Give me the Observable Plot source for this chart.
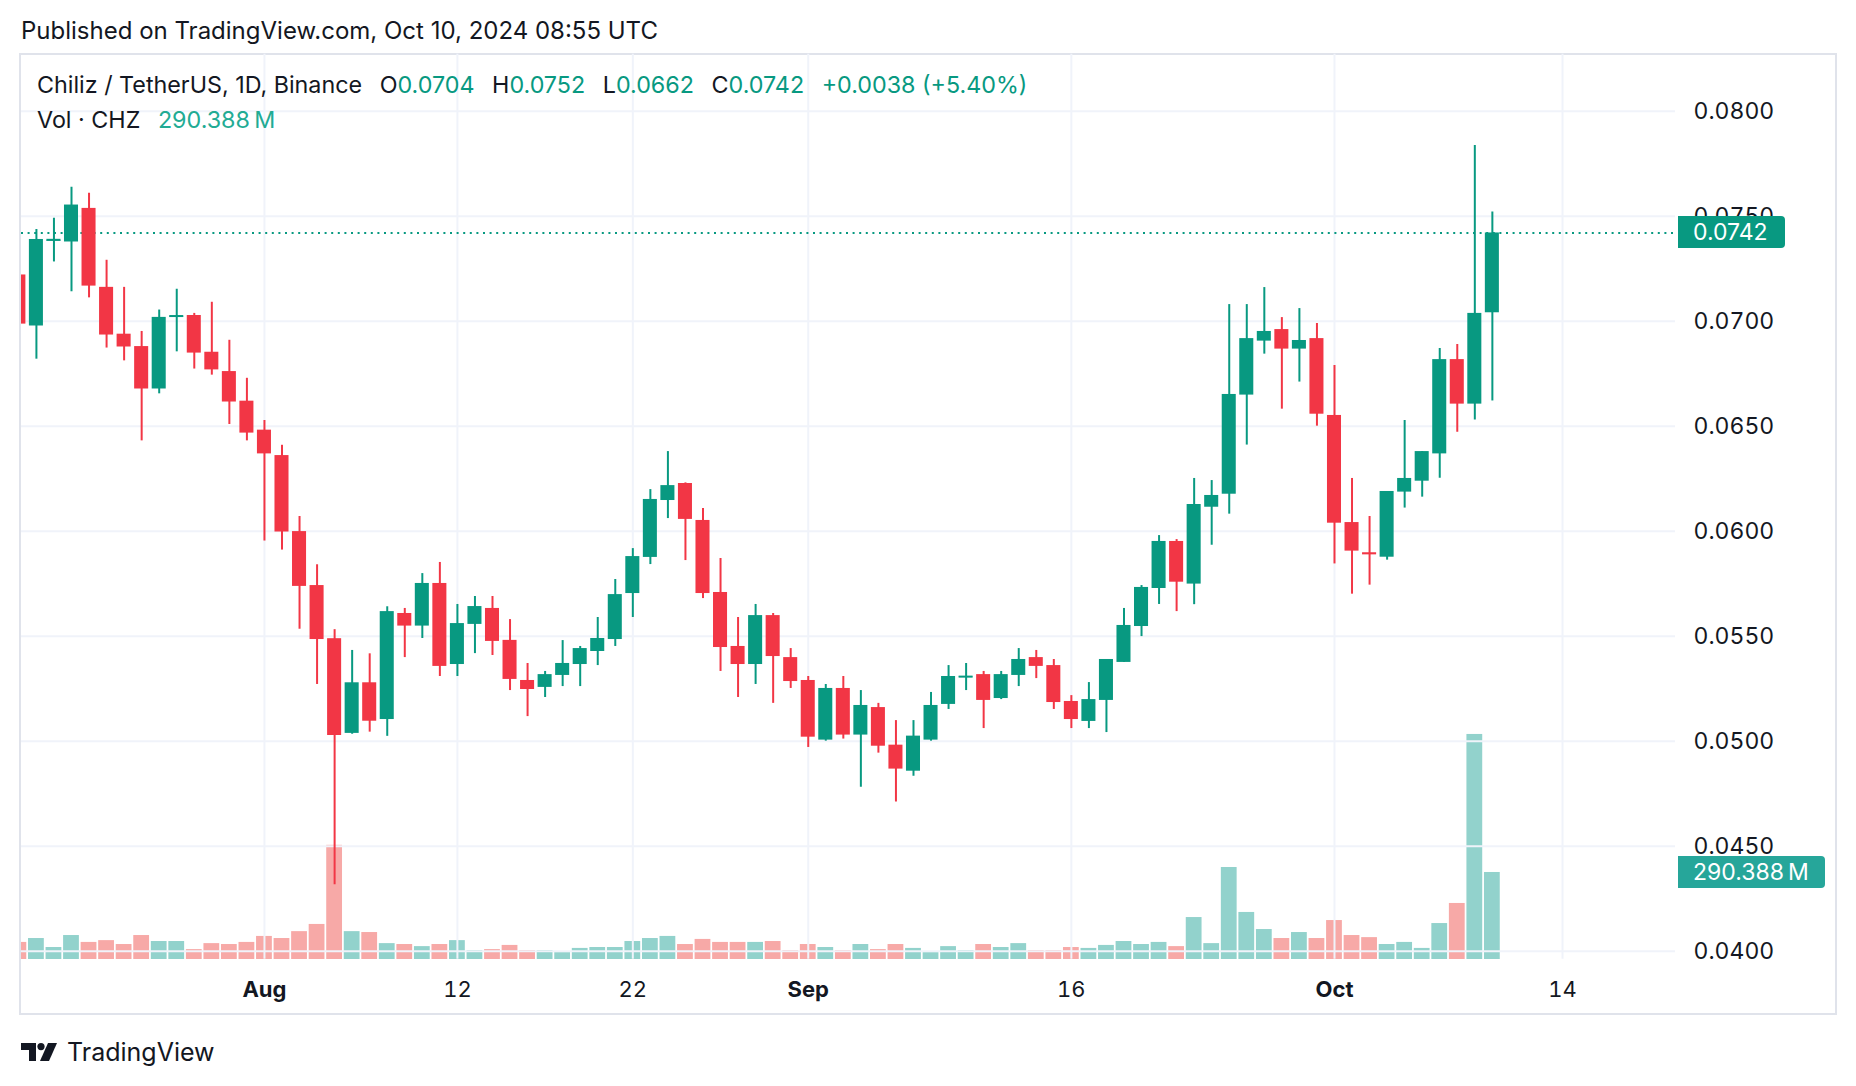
<!DOCTYPE html>
<html><head><meta charset="utf-8">
<script src="https://cdn.jsdelivr.net/npm/d3@7"></script>
<script src="https://cdn.jsdelivr.net/npm/@observablehq/plot@0.6"></script>
<style>
html,body{margin:0;padding:0;background:#fff;}
body{width:1856px;height:1086px;position:relative;overflow:hidden;font-family:Inter,"Noto Sans",sans-serif;color:#131722;}
#title{position:absolute;left:21px;top:18px;font-size:24px;line-height:26px;white-space:nowrap;}
#frame{position:absolute;left:19px;top:53px;width:1818px;height:962px;border:2px solid #e0e3eb;box-sizing:border-box;background:#fff;}
.layer{position:absolute;left:0;top:0;}
#legend1{position:absolute;left:37px;top:72px;font-size:23.3px;line-height:26px;white-space:nowrap;}
#legend2{position:absolute;left:37px;top:107px;font-size:23.3px;line-height:26px;white-space:nowrap;}
.g{color:#089981;} .v{color:#22ab94;}
.sp{display:inline-block;width:11px;}
.tag{position:absolute;left:1678px;height:32px;line-height:32px;color:#fff;font-size:23px;padding-left:15px;box-sizing:border-box;border-radius:0 4px 4px 0;white-space:nowrap;}
#brand{position:absolute;left:21px;top:1038px;height:28px;display:flex;align-items:center;gap:10px;font-size:25px;color:#131722;}
</style></head>
<body>
<div id="title">Published on TradingView.com, Oct 10, 2024 08:55 UTC</div>
<div id="frame"></div>
<div id="chart"></div>
<div id="legend1">Chiliz / TetherUS, 1D, Binance<span class="sp"></span> O<span class="g">0.0704</span><span class="sp"></span> H<span class="g">0.0752</span><span class="sp"></span> L<span class="g">0.0662</span><span class="sp"></span> C<span class="g">0.0742</span><span class="sp"></span> <span class="g">+0.0038 (+5.40%)</span></div>
<div id="legend2">Vol · CHZ<span class="sp"></span> <span class="v">290.388&#8201;M</span></div>
<div id="brand"><svg width="36" height="18" viewBox="0 0 36 18"><path d="M0 0h15v18h-7v-11h-8z" fill="#131722"/><circle cx="20" cy="3.6" r="3.6" fill="#131722"/><path d="M27 0h9l-8 18h-9z" fill="#131722"/></svg><span>TradingView</span></div>
<script>
// ---- data (CHZ/USDT daily, Jul 18 – Oct 10, 2024) ----
const startDate = "2024-07-18";
const open = [
0.0722,0.06977,0.07381,0.07377,0.07537,0.07161,0.06938,0.06879,0.06677,0.07020,
0.07027,0.06852,0.06760,0.06619,0.06481,0.06360,0.05998,0.05741,0.05488,0.05037,
0.05278,0.05103,0.05608,0.05548,0.05751,0.05365,0.05556,0.05632,0.05480,0.05289,
0.05256,0.05313,0.05365,0.05427,0.05484,0.05703,0.05875,0.06146,0.06227,0.06051,
0.05708,0.05451,0.05365,0.05598,0.05398,0.05289,0.05005,0.05251,0.05029,0.05160,
0.04981,0.04857,0.05005,0.05175,0.05303,0.05317,0.05203,0.05313,0.05398,0.05360,
0.05189,0.05094,0.05194,0.05375,0.05546,0.05727,0.05951,0.05748,0.06114,0.06176,
0.06648,0.06905,0.06960,0.06867,0.06917,0.06551,0.06041,0.05895,0.05876,0.06186,
0.06238,0.06368,0.06817,0.06605,0.0704];
const high = [
0.0726,0.07436,0.07490,0.07638,0.07609,0.07290,0.07161,0.06951,0.07053,0.07152,
0.07037,0.07090,0.06909,0.06728,0.06527,0.06409,0.06070,0.05840,0.05531,0.05432,
0.05416,0.05640,0.05632,0.05798,0.05851,0.05651,0.05689,0.05689,0.05579,0.05370,
0.05332,0.05479,0.05451,0.05589,0.05770,0.05917,0.06198,0.06379,0.06230,0.06108,
0.05870,0.05589,0.05651,0.05608,0.05441,0.05308,0.05270,0.05308,0.05241,0.05180,
0.05098,0.05098,0.05232,0.05360,0.05370,0.05332,0.05332,0.05441,0.05432,0.05389,
0.05217,0.05279,0.05389,0.05632,0.05741,0.05979,0.05960,0.06251,0.06241,0.07079,
0.07079,0.07160,0.07017,0.07060,0.06989,0.06789,0.06251,0.06070,0.06189,0.06527,
0.06379,0.06870,0.06889,0.07837,0.0752];
const low = [
0.0690,0.06819,0.07282,0.07140,0.07111,0.06872,0.06811,0.06430,0.06654,0.06854,
0.06772,0.06743,0.06508,0.06430,0.05953,0.05910,0.05533,0.05270,0.04316,0.05033,
0.05043,0.05023,0.05398,0.05489,0.05308,0.05308,0.05417,0.05408,0.05241,0.05117,
0.05208,0.05260,0.05260,0.05360,0.05451,0.05589,0.05841,0.06060,0.05860,0.05679,
0.05332,0.05208,0.05270,0.05180,0.05251,0.04970,0.05000,0.05010,0.04781,0.04943,
0.04710,0.04833,0.05000,0.05151,0.05241,0.05060,0.05198,0.05260,0.05298,0.05151,
0.05060,0.05060,0.05041,0.05375,0.05498,0.05651,0.05617,0.05650,0.05933,0.06081,
0.06410,0.06843,0.06581,0.06710,0.06500,0.05844,0.05700,0.05743,0.05862,0.06110,
0.06162,0.06252,0.06471,0.06529,0.0662];
const close = [
0.06986,0.07389,0.07385,0.07553,0.07167,0.06934,0.06877,0.06677,0.07018,0.07022,
0.06848,0.06768,0.06615,0.06467,0.06368,0.05996,0.05737,0.05484,0.05027,0.05278,
0.05095,0.05617,0.05548,0.05751,0.05356,0.05560,0.05641,0.05475,0.05294,0.05246,
0.05317,0.05370,0.05441,0.05489,0.05698,0.05879,0.06151,0.06217,0.06056,0.05703,
0.05446,0.05365,0.05598,0.05403,0.05284,0.05019,0.05251,0.05029,0.05170,0.04976,
0.04867,0.05024,0.05170,0.05308,0.05305,0.05194,0.05317,0.05389,0.05356,0.05184,
0.05103,0.05198,0.05389,0.05551,0.05732,0.05951,0.05757,0.06127,0.06170,0.06651,
0.06917,0.06951,0.06867,0.06908,0.06557,0.06038,0.05905,0.05892,0.06189,0.06251,
0.06379,0.06817,0.06605,0.07037,0.0742];
const volumeM = [
57,70,40,80,57,63,50,80,60,60,
33,53,50,57,77,70,93,117,381,93,
90,53,50,43,50,63,30,33,47,30,
30,23,37,40,40,60,70,77,50,67,
57,57,57,60,30,50,40,30,50,33,
50,37,23,43,30,50,40,53,30,30,
40,37,47,60,50,57,43,140,53,307,
157,100,70,90,70,130,80,73,50,57,
37,120,187,751,290.388];
const xTickDates = ["2024-08-01","2024-08-12","2024-08-22","2024-09-01","2024-09-16","2024-10-01","2024-10-14"];
const xTickLabels = ["Aug","12","22","Sep","16","Oct","14"];
const monthLabels = ["Aug","Sep","Oct"];
const yTicks = [0.040,0.045,0.050,0.055,0.060,0.065,0.070,0.075,0.080];
const lastPrice = 0.0742;
const lastVolumeLabel = "290.388\u2009M";

// ---- build table ----
const DAY = 864e5;
const t0 = new Date(startDate + "T00:00:00Z");
const UP = "#089981", DOWN = "#f23645", UPV = "#92d2cc", DOWNV = "#f7a9a7";
const data = open.map((o, i) => ({
  date: new Date(+t0 + i * DAY), open: o, high: high[i], low: low[i], close: close[i], volume: volumeM[i],
  up: close[i] >= o
}));
const ticks = xTickDates.map((d, i) => ({date: new Date(d + "T00:00:00Z"), label: xTickLabels[i]}));
const monthTicks = ticks.filter(t => monthLabels.includes(t.label));
const dayTicks = ticks.filter(t => !monthLabels.includes(t.label));
const labelOf = new Map(ticks.map(t => [+t.date, t.label]));

const xDomain = [new Date(Date.UTC(2024, 6, 18, 3, 36)), new Date(Date.UTC(2024, 9, 20, 10, 34))];
const W = 1856, H = 1086, ML = 21, MR = 181, MT = 110.67;
const font = "Inter, 'Noto Sans', sans-serif";

const volPlot = Plot.plot({
  width: W, height: H, marginLeft: ML, marginRight: MR, marginTop: MT, marginBottom: 127,
  style: {background: "transparent"},
  x: {type: "utc", domain: xDomain, axis: null},
  y: {domain: [0, 2831], axis: null},
  color: {type: "identity"},
  marks: [
    Plot.rectY(data, {
      x1: d => new Date(+d.date - 0.45 * DAY), x2: d => new Date(+d.date + 0.45 * DAY),
      y: "volume", fill: d => d.up ? UPV : DOWNV, clip: true
    })
  ]
});

const pricePlot = Plot.plot({
  width: W, height: H, marginLeft: ML, marginRight: MR, marginTop: MT, marginBottom: 135.33,
  style: {background: "transparent", fontFamily: font, fontSize: "22px", color: "#131722"},
  x: {type: "utc", domain: xDomain},
  y: {domain: [0.04, 0.08]},
  color: {type: "identity"},
  marks: [
    Plot.gridY({ticks: yTicks, stroke: "#f0f3fa", strokeOpacity: 1, strokeWidth: 2}),
    Plot.gridX({ticks: ticks.map(t => t.date), stroke: "#f0f3fa", strokeOpacity: 1, strokeWidth: 2, insetTop: -57, insetBottom: -8}),
    Plot.axisY({anchor: "right", ticks: yTicks, tickSize: 0, tickPadding: 18, tickFormat: d => d.toFixed(4), fontSize: 23, fill: "#131722"}),
    Plot.axisX({ticks: monthTicks.map(t => t.date), tickSize: 0, tickPadding: 30, tickFormat: d => labelOf.get(+d), fontWeight: "bold", fontSize: 22, fill: "#131722"}),
    Plot.axisX({ticks: dayTicks.map(t => t.date), tickSize: 0, tickPadding: 30, tickFormat: d => labelOf.get(+d), fontSize: 22, fill: "#131722"}),
    Plot.ruleY([lastPrice], {stroke: UP, strokeWidth: 2, strokeDasharray: "2 4.6"}),
    Plot.ruleX(data, {x: "date", y1: "low", y2: "high", stroke: d => d.up ? UP : DOWN, strokeWidth: 2, clip: true}),
    Plot.rect(data, {
      x1: d => new Date(+d.date - 0.4 * DAY), x2: d => new Date(+d.date + 0.4 * DAY),
      y1: "open", y2: "close", fill: d => d.up ? UP : DOWN, clip: true
    }),
    Plot.rect(data.filter(d => Math.abs(d.close - d.open) < 0.0001), {
      x1: d => new Date(+d.date - 0.4 * DAY), x2: d => new Date(+d.date + 0.4 * DAY),
      y1: "close", y2: "close", insetTop: -1, insetBottom: -1, fill: d => d.up ? UP : DOWN, clip: true
    })
  ]
});

const chart = document.getElementById("chart");
volPlot.classList.add("layer"); pricePlot.classList.add("layer");
volPlot.style.position = "absolute"; pricePlot.style.position = "absolute";
chart.appendChild(volPlot); chart.appendChild(pricePlot);

// value tags on the price axis, positioned through the plots' scales
const py = pricePlot.scale("y").apply(lastPrice);
const t1 = document.createElement("div");
t1.className = "tag"; t1.style.background = UP; t1.style.width = "107px"; t1.style.top = (py - 16) + "px";
t1.textContent = lastPrice.toFixed(4);
document.body.appendChild(t1);
const vy = volPlot.scale("y").apply(volumeM[volumeM.length - 1]);
const t2 = document.createElement("div");
t2.className = "tag"; t2.style.background = "#26a69a"; t2.style.width = "147px"; t2.style.top = (vy - 16) + "px";
t2.textContent = lastVolumeLabel;
document.body.appendChild(t2);
</script>
</body></html>
